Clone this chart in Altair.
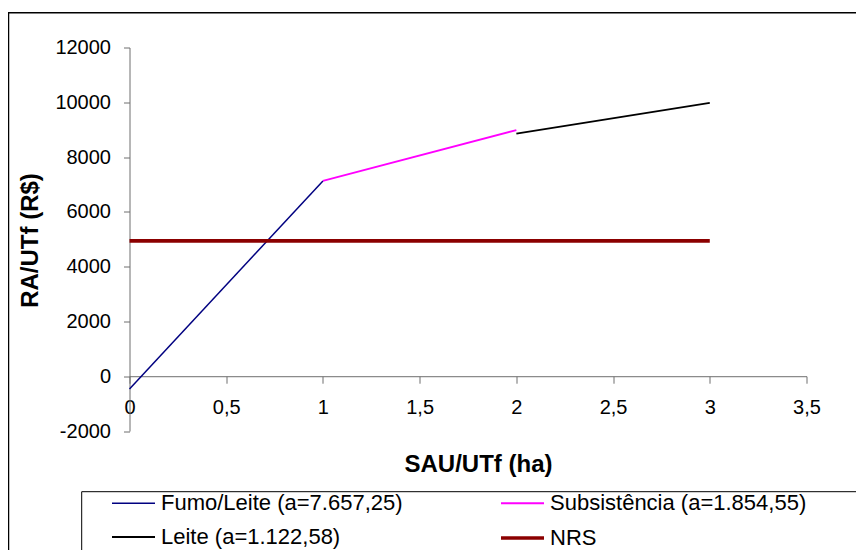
import altair as alt
import pandas as pd

# ---- data ----
series = ["Fumo/Leite (a=7.657,25)", "Subsistência (a=1.854,55)", "Leite (a=1.122,58)", "NRS"]
x_start = [0, 1, 2, 0]
x_end = [1, 2, 3, 3]
y_start = [-470, 7130, 8855, 4940]
y_end = [7130, 8985, 9980, 4940]
colors = ["#000080", "#FF00FF", "#000000", "#8B0000"]
widths = [1.5, 1.8, 1.8, 3.6]
x_ticks = [0, 0.5, 1, 1.5, 2, 2.5, 3, 3.5]
y_ticks = [-2000, 0, 2000, 4000, 6000, 8000, 10000, 12000]

rows = []
for s, xs, xe, ys, ye in zip(series, x_start, x_end, y_start, y_end):
    rows.append({"series": s, "x": xs, "y": ys})
    rows.append({"series": s, "x": xe, "y": ye})
df = pd.DataFrame(rows)

FONT = "Liberation Sans, Arial, sans-serif"
W, H = 677, 383.5
zero_pos = H * 12000 / 14000

leg = dict(title=None, orient="none", legendX=-19.5, legendY=433,
           columns=2, direction="horizontal", symbolType="stroke", symbolSize=1849,
           labelFont=FONT, labelFontSize=22, labelColor="black",
           labelOffset=4, columnPadding=90, rowPadding=0,
           padding=0, labelLimit=400)

lines = alt.Chart(df).mark_line(strokeCap="butt").encode(
    x=alt.X("x:Q",
            scale=alt.Scale(domain=[0, 3.5], nice=False, zero=False),
            axis=alt.Axis(values=x_ticks, offset=-(H - zero_pos), grid=False,
                          tickSize=7, labelPadding=14, labelFontSize=20,
                          labelFont=FONT, labelColor="black",
                          labelFlush=False, labelOverlap=False, labelBound=False,
                          labelExpr="replace(toString(datum.value), '.', ',')",
                          domainColor="#6e6e6e", tickColor="#6e6e6e",
                          title="SAU/UTf (ha)", titleFont=FONT, titleFontSize=24,
                          titleFontWeight="bold", titleColor="black",
                          titleX=348.5, titleY=88, titleBaseline="middle",
                          titleAlign="center")),
    y=alt.Y("y:Q",
            scale=alt.Scale(domain=[-2000, 12000], nice=False, zero=False),
            axis=alt.Axis(values=y_ticks, grid=False,
                          labelExpr="toString(datum.value)",
                          tickSize=6, labelPadding=13, labelFontSize=20,
                          labelFont=FONT, labelColor="black",
                          labelOverlap=False, labelBound=False, labelFlush=False,
                          domainColor="#6e6e6e", tickColor="#6e6e6e",
                          title="RA/UTf (R$)", titleFont=FONT, titleFontSize=24,
                          titleFontWeight="bold", titleColor="black",
                          titleAngle=270, titleX=-99, titleY=192.5,
                          titleBaseline="middle", titleAlign="center")),
    color=alt.Color("series:N", scale=alt.Scale(domain=series, range=colors),
                    sort=series, legend=alt.Legend(**leg)),
    strokeWidth=alt.StrokeWidth("series:N", scale=alt.Scale(type="ordinal", domain=series, range=widths),
                                sort=series, legend=alt.Legend(**leg)),
    detail="series:N",
    order="x:Q",
)

one = pd.DataFrame({"a": [0]})
border = alt.Chart(one).mark_rect(fill=None, stroke="black", strokeWidth=1.5, clip=False).encode(
    x=alt.value(-121), x2=alt.value(760), y=alt.value(-34.8), y2=alt.value(560))
legend_box = alt.Chart(one).mark_rect(fill="white", stroke="black", strokeWidth=1, clip=False).encode(
    x=alt.value(-47.8), x2=alt.value(760), y=alt.value(444.2), y2=alt.value(509.5))

chart = alt.layer(border, legend_box, lines).properties(
    width=W, height=H,
    autosize=alt.AutoSizeParams(type="none"),
    padding={"left": 121.5, "top": 39.5, "right": 49.5, "bottom": 119},
    background="white",
).configure_view(stroke=None)

chart.save("out.html", embed_options={"renderer": "svg", "actions": False})
